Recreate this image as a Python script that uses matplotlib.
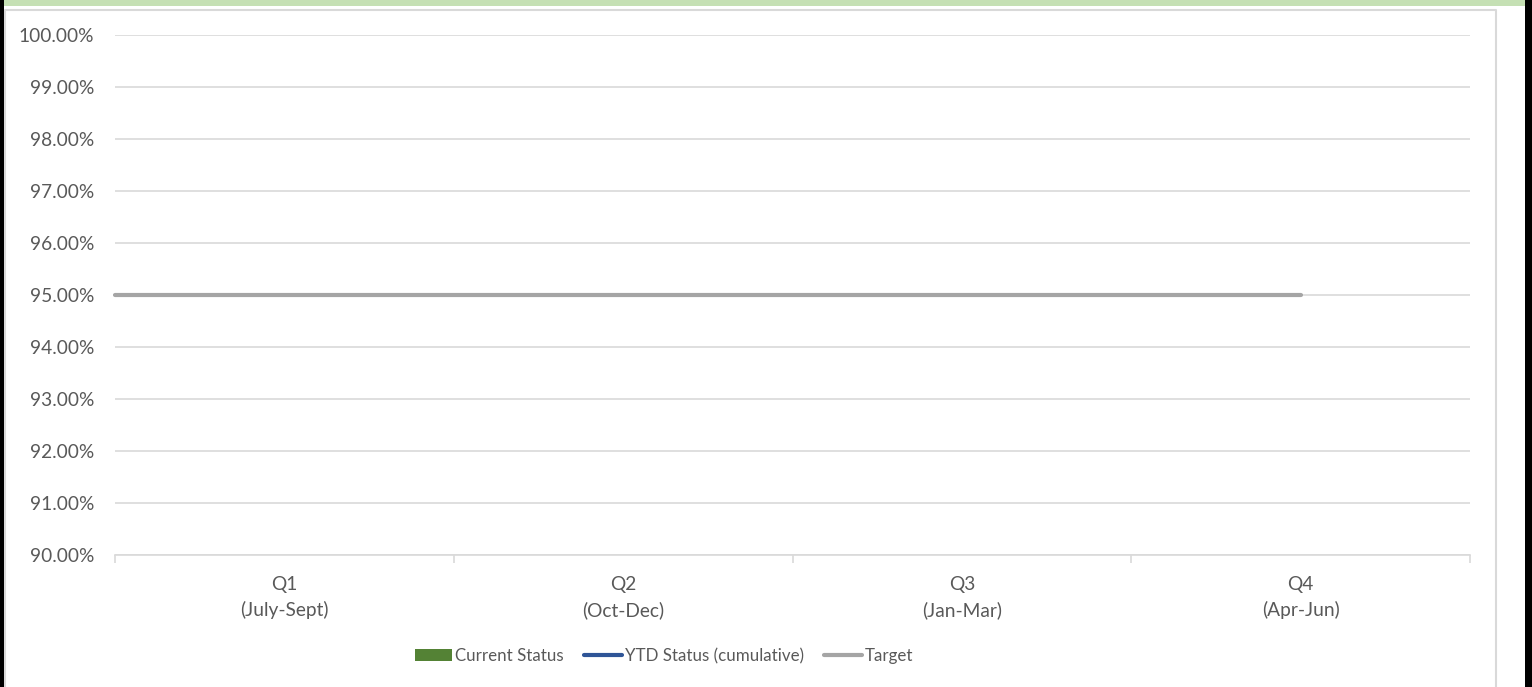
import matplotlib
matplotlib.use('Agg')
import matplotlib.pyplot as plt
import numpy as np
from matplotlib.patches import Rectangle
from matplotlib.lines import Line2D
from matplotlib.ticker import FuncFormatter

quarters = ['Q1\n(July-Sept)', 'Q2\n(Oct-Dec)', 'Q3\n(Jan-Mar)', 'Q4\n(Apr-Jun)']
current_status = [np.nan, np.nan, np.nan, np.nan]
ytd_status = [np.nan, np.nan, np.nan, np.nan]
target = [95.0, 95.0, 95.0, 95.0]
y_min, y_max, y_step = 90.0, 100.0, 1.0

plt.rcParams['font.family'] = ['Lato', 'DejaVu Sans']

W, H = 1532, 687
fig = plt.figure(figsize=(W / 100, H / 100), dpi=100)
fig.patch.set_facecolor('white')

# frame decorations around the chart
fig.patches.append(Rectangle((0, 1 - 6 / H), 1525 / W, 6 / H, transform=fig.transFigure,
                             facecolor='#C5E0B4', edgecolor='none', zorder=0))
fig.patches.append(Rectangle((0, 0), 4 / W, 1, transform=fig.transFigure,
                             facecolor='black', edgecolor='none', zorder=2))
fig.patches.append(Rectangle((1525 / W, 0), 7 / W, 1, transform=fig.transFigure,
                             facecolor='black', edgecolor='none', zorder=2))
fig.lines.append(Line2D([4.5 / W, 4.5 / W, 1496 / W, 1496 / W], [0, 1 - 10 / H, 1 - 10 / H, 0],
                        transform=fig.transFigure, color='#D9D9D9', lw=1.5, zorder=1))

ax = fig.add_axes([115 / W, 132 / H, (1470 - 115) / W, 520 / H])
x = np.arange(len(quarters))

bars = ax.bar(x, current_status, width=0.5, color='#548235', label='Current Status')
ytd_line, = ax.plot(x, ytd_status, color='#2F5597', lw=3, solid_capstyle='round',
                    label='YTD Status (cumulative)')
ax.set_xlim(-0.5, len(quarters) - 0.5)
left = ax.get_xlim()[0]
target_line, = ax.plot(np.r_[left, x], np.r_[target[0], target], color='#A5A5A5', lw=3,
                       solid_capstyle='round', label='Target', clip_on=False)

ax.set_ylim(y_min, y_max)
ax.set_yticks(np.arange(y_min, y_max + y_step / 2, y_step))
ax.yaxis.set_major_formatter(FuncFormatter(lambda v, p: f'{v:.2f}%'))
ax.grid(axis='y', color='#D9D9D9', lw=1.2)
ax.set_axisbelow(True)
for s in ['top', 'right', 'left']:
    ax.spines[s].set_visible(False)
ax.spines['bottom'].set_color('#D9D9D9')
ax.spines['bottom'].set_linewidth(1.2)

ax.set_xticks(x)
ax.set_xticklabels(quarters)
ax.set_xticks(np.arange(-0.5, len(quarters)), minor=True)
ax.tick_params(axis='x', which='major', length=0, pad=15, labelsize=13.8, labelcolor='#595959')
ax.tick_params(axis='x', which='minor', length=6, color='#D9D9D9', width=1.2)
ax.tick_params(axis='y', length=0, pad=15, labelsize=13.8, labelcolor='#595959')
for t in ax.get_xticklabels():
    t.set_linespacing(1.55)

leg = fig.legend(handles=[bars, ytd_line, target_line], loc='center',
                 bbox_to_anchor=(664 / W, 1 - 656 / H), ncol=3, frameon=False,
                 fontsize=12.2, handlelength=2.2, handleheight=0.75,
                 handletextpad=0.2, columnspacing=1.2, labelcolor='#595959')

fig.savefig('out.png', dpi=100, facecolor='white')
